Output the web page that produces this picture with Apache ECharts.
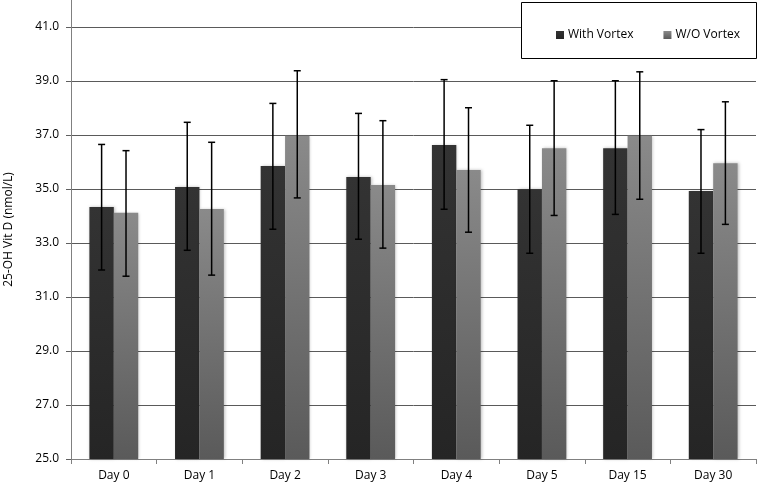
<!DOCTYPE html>
<html><head><meta charset="utf-8">
<script src="https://cdn.jsdelivr.net/npm/echarts@6/dist/echarts.min.js"></script>
<style>html,body{margin:0;padding:0;background:#fff}#c{width:759px;height:483px}</style>
</head><body><div id="c"></div>
<script>
var categories = ['Day 0','Day 1','Day 2','Day 3','Day 4','Day 5','Day 15','Day 30'];
var withVortex = [34.33, 35.07, 35.85, 35.44, 36.63, 34.99, 36.51, 34.93];
var withVortexLow = [32.00, 32.73, 33.51, 33.14, 34.25, 32.62, 34.06, 32.62];
var withVortexHigh = [36.65, 37.47, 38.17, 37.80, 39.05, 37.36, 39.01, 37.20];
var woVortex = [34.12, 34.26, 36.97, 35.15, 35.70, 36.51, 36.97, 35.95];
var woVortexLow = [31.77, 31.81, 34.67, 32.81, 33.40, 34.02, 34.62, 33.69];
var woVortexHigh = [36.42, 36.73, 39.38, 37.53, 38.01, 39.01, 39.34, 38.23];
var yTicks = ['25.0','27.0','29.0','31.0','33.0','35.0','37.0','39.0','41.0'];

var FONT = 'Open Sans';
var BAR_FRAC = 0.57;

function errData(low, high) {
  return categories.map(function (c, i) { return [i, low[i], high[i]]; });
}
function errRender(sign) {
  return function (params, api) {
    var idx = api.value(0);
    var lo = api.coord([idx, api.value(1)]);
    var hi = api.coord([idx, api.value(2)]);
    var off = api.size([1, 0])[0] * BAR_FRAC / 4 * sign;
    var x = lo[0] + off;
    var cap = 3.5;
    var st = { stroke: '#000', lineWidth: 1.5 };
    return { type: 'group', children: [
      { type: 'line', shape: { x1: x, y1: hi[1], x2: x, y2: lo[1] }, style: st },
      { type: 'line', shape: { x1: x - cap, y1: hi[1], x2: x + cap, y2: hi[1] }, style: st },
      { type: 'line', shape: { x1: x - cap, y1: lo[1], x2: x + cap, y2: lo[1] }, style: st }
    ]};
  };
}

var chart = echarts.init(document.getElementById('c'), null, { renderer: 'canvas' });
chart.setOption({
  animation: false,
  backgroundColor: '#fff',
  textStyle: { fontFamily: FONT },
  grid: { left: 71, right: 3, top: 0, bottom: 24, containLabel: false, outerBoundsMode: 'none' },
  graphic: [{
    type: 'rect', z: 3,
    shape: { x: 521.5, y: 2.5, width: 235, height: 56 },
    style: { fill: '#fff', stroke: '#000', lineWidth: 1 }
  }],
  legend: {
    z: 10,
    left: 551, top: 24,
    icon: 'rect', itemWidth: 8, itemHeight: 8, itemGap: 30,
    textStyle: { fontFamily: FONT, fontSize: 12, color: '#000', padding: [0, 0, 0, -1] },
    data: ['With Vortex', 'W/O Vortex']
  },
  xAxis: {
    type: 'category', data: categories,
    axisLine: { lineStyle: { color: '#808080', width: 1 } },
    axisTick: { show: true, length: 5, lineStyle: { color: '#808080' } },
    axisLabel: { fontFamily: FONT, fontSize: 12, color: '#000', margin: 11 },
    splitLine: { show: false }
  },
  yAxis: {
    type: 'value', min: 25, max: 42, interval: 2,
    name: '25-OH Vit D (nmol/L)', nameLocation: 'middle', nameGap: 56,
    nameTextStyle: { fontFamily: FONT, fontSize: 12, color: '#000' },
    axisLine: { show: true, lineStyle: { color: '#808080', width: 1 } },
    axisTick: { show: true, length: 5, lineStyle: { color: '#606060' } },
    axisLabel: {
      fontFamily: FONT, fontSize: 12, color: '#000', margin: 12, showMaxLabel: false,
      formatter: function (v) { var i = (v - 25) / 2; return yTicks[i] !== undefined ? yTicks[i] : ''; }
    },
    splitLine: { show: true, showMaxLine: false, lineStyle: { color: '#5a5a5a', width: 1 } }
  },
  series: [
    {
      name: 'With Vortex', type: 'bar', data: withVortex,
      barGap: '0%', barCategoryGap: '43%',
      itemStyle: {
        color: new echarts.graphic.LinearGradient(0, 0, 0, 1, [
          { offset: 0, color: '#333333' }, { offset: 1, color: '#252525' }
        ]),
        shadowBlur: 3, shadowColor: 'rgba(0,0,0,0.25)', shadowOffsetX: 1
      }
    },
    {
      name: 'W/O Vortex', type: 'bar', data: woVortex,
      itemStyle: {
        color: new echarts.graphic.LinearGradient(0, 0, 0, 1, [
          { offset: 0, color: '#8a8a8a' }, { offset: 1, color: '#5a5a5a' }
        ]),
        shadowBlur: 3, shadowColor: 'rgba(0,0,0,0.25)', shadowOffsetX: 1
      }
    },
    { type: 'custom', z: 5, renderItem: errRender(-1), data: errData(withVortexLow, withVortexHigh), silent: true },
    { type: 'custom', z: 5, renderItem: errRender(1), data: errData(woVortexLow, woVortexHigh), silent: true }
  ]
});
</script></body></html>
